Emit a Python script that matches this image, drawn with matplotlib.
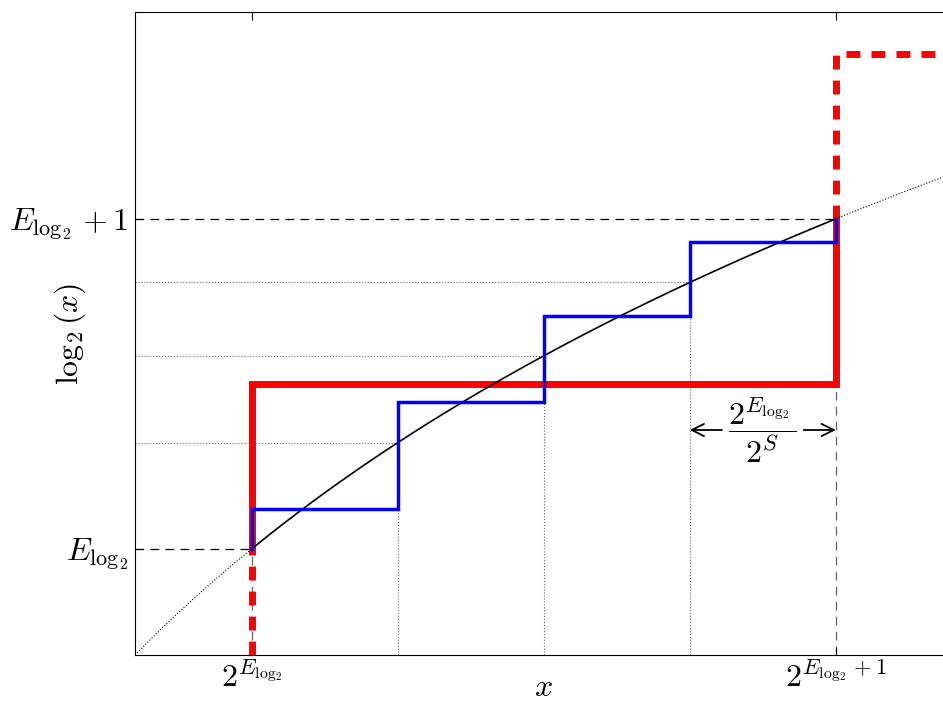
import numpy as np
import matplotlib
matplotlib.use('Agg')
import matplotlib.pyplot as plt

plt.rcParams['mathtext.fontset'] = 'cm'
plt.rcParams['font.family'] = 'DejaVu Serif'

# data (mantissa interval [1, 2] of one binade)
step_x = [1.0, 1.25, 1.5, 1.75, 2.0]
blue_y = [0.12, 0.445, 0.706, 0.93]      # S = 2 lookup levels
red_y = 0.5                               # S = 0 level
red_next = 1.5                            # next binade
x_ticks = [1, 2]
x_tick_labels = [r'$2^{E_{\log_2}}$', r'$2^{E_{\log_2}+1}$']
y_ticks = [0, 1]
y_tick_labels = [r'$E_{\log_2}$', r'$E_{\log_2}+1$']

xmin, xmax = 0.8, 2.2
ymin, ymax = np.log2(0.8), 1.627

fig = plt.figure(figsize=(9.43, 7.03), dpi=100)
ax = fig.add_axes([135 / 943, 48 / 703, 817.6 / 943, 643 / 703])

# log2 curve: solid inside the binade, dotted outside
xs = np.linspace(1, 2, 200)
ax.plot(xs, np.log2(xs), color='k', lw=1.2, zorder=3)
xl = np.linspace(xmin, 1, 50)
xr = np.linspace(2, xmax, 50)
ax.plot(xl, np.log2(xl), color='k', lw=0.8, ls=':', zorder=3)
ax.plot(xr, np.log2(xr), color='k', lw=0.8, ls=':', zorder=3)

# guide lines at the binade edges
for xv, yv in zip(x_ticks, y_ticks):
    ax.plot([xmin, xv], [yv, yv], color='k', lw=0.9, ls=(0, (7, 5)), zorder=1)
    ax.plot([xv, xv], [ymin, yv], color='0.4', lw=0.9, ls=(0, (7, 5)), zorder=1)

# dotted guides at inner step boundaries
for xv in step_x[1:-1]:
    ax.plot([xmin, xv], [np.log2(xv)] * 2, color='0.4', lw=0.8, ls=':', zorder=1)
    ax.plot([xv, xv], [ymin, np.log2(xv)], color='0.4', lw=0.8, ls=':', zorder=1)

# red: S = 0
ax.plot([1, 1, 2, 2], [0, red_y, red_y, 1], color='red', lw=5, zorder=2,
        solid_joinstyle='miter')
ax.plot([1, 1], [ymin, 0], color='red', lw=5, ls=(0, (2, 1.6)), zorder=2)
ax.plot([2, 2, xmax], [1, red_next, red_next], color='red', lw=5,
        ls=(0, (2, 1.6)), zorder=2)

# blue: S = 2
bx, by = [step_x[0]], [0]
for i, yv in enumerate(blue_y):
    bx += [step_x[i], step_x[i + 1]]
    by += [yv, yv]
bx.append(step_x[-1])
by.append(1)
ax.plot(bx, by, color='blue', lw=2.5, zorder=4, solid_joinstyle='miter')

# spacing annotation
ya = 0.36
ax.annotate('', xy=(1.75, ya), xytext=(1.805, ya),
            arrowprops=dict(arrowstyle='->', lw=1.3, color='k',
                            mutation_scale=22, shrinkA=0, shrinkB=0))
ax.annotate('', xy=(2.0, ya), xytext=(1.945, ya),
            arrowprops=dict(arrowstyle='->', lw=1.3, color='k',
                            mutation_scale=22, shrinkA=0, shrinkB=0))
ax.text(1.875, ya, r'$\dfrac{2^{E_{\log_2}}}{2^S}$', fontsize=23,
        ha='center', va='center')

ax.set_xlim(xmin, xmax)
ax.set_ylim(ymin, ymax)
ax.set_xticks(x_ticks)
ax.set_xticklabels(x_tick_labels, fontsize=23)
ax.set_yticks(y_ticks)
ax.set_yticklabels(y_tick_labels, fontsize=23)
ax.tick_params(direction='in', top=True, right=True, length=6, pad=5)
ax.set_ylabel(r'$\log_2(x)$', fontsize=23)
ax.yaxis.set_label_coords(-0.057, 0.5)
# x label placed by baseline so the glyph sits just above the bottom edge
fig.text(543 / 943, 1 - 696 / 703, r'$x$', fontsize=23,
         ha='center', va='baseline')

fig.savefig('out.png', dpi=100)
